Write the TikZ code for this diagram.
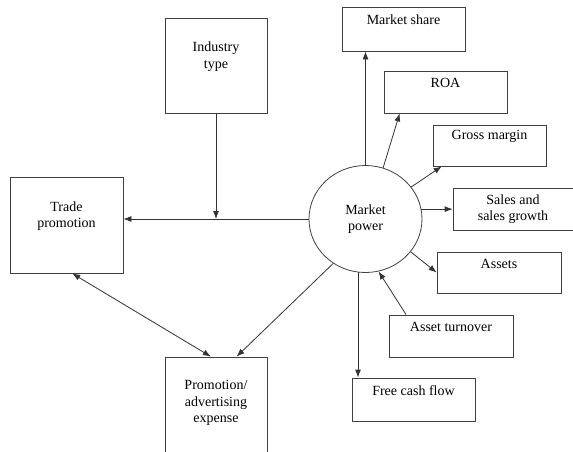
\documentclass[tikz,border=0pt]{standalone}
\usepackage{fontspec}
\setmainfont{Liberation Serif}
\usetikzlibrary{arrows.meta,calc,shapes.geometric}

\tikzset{
  box/.style={draw=black!75, line width=0.8pt, inner sep=0pt},
  txt/.style={anchor=center, align=center, yshift=9pt,
    font=\fontsize{14}{16.5}\selectfont},
  link/.style={draw=black!80, line width=0.8pt, -{Latex[length=8pt,width=6pt]}},
}

\begin{document}
\begin{tikzpicture}[x=1pt,y=-1pt]
  \useasboundingbox (0,0) rectangle (573,451);
  \clip (0,0) rectangle (573,451);

  % centre
  \node[box, ellipse, minimum width=113pt, minimum height=107pt,
        align=center, font=\fontsize{14}{16.5}\selectfont] (power) at (365.5,219) {Market\\power};

  % left side
  \node[box, minimum width=102pt, minimum height=95pt,
        label={[txt]center:Industry\\type}] (industry) at (216,65.5) {};
  \node[box, minimum width=113pt, minimum height=96pt,
        label={[txt]center:Trade\\promotion}] (trade) at (66.5,225) {};
  \node[box, minimum width=102pt, minimum height=110pt,
        label={[txt]center:Promotion/\\advertising\\expense}] (promo) at (216,412) {};

  % right side
  \node[box, minimum width=123pt, minimum height=44pt,
        label={[txt]center:Market share}] (share) at (403.5,29) {};
  \node[box, minimum width=123pt, minimum height=42pt,
        label={[txt]center:ROA}] (roa) at (445.5,92) {};
  \node[box, minimum width=113pt, minimum height=41pt,
        label={[txt]center:Gross margin}] (gross) at (489.5,145.5) {};
  \node[box, minimum width=120pt, minimum height=42pt,
        label={[txt,yshift=-9pt]center:Sales and\\sales growth}] (sales) at (513,209) {};
  \node[box, minimum width=124pt, minimum height=41pt,
        label={[txt]center:Assets}] (assets) at (499,272.5) {};
  \node[box, minimum width=124pt, minimum height=42pt,
        label={[txt]center:Asset turnover}] (turnover) at (451,336) {};
  \node[box, minimum width=123pt, minimum height=43pt,
        label={[txt]center:Free cash flow}] (cash) at (413.5,399.5) {};

  % connectors
  \draw[link] (power.west) -- (power.west -| trade.east);
  \draw[link] (industry.south) -- (industry.south |- power.west);
  \draw[link] (power.-126) -- ($(promo.north west)!0.7!(promo.north east)$);
  \draw[link, {Latex[length=8pt,width=6pt]}-{Latex[length=8pt,width=6pt]}]
    ($(trade.south west)!0.55!(trade.south east)$) -- ($(promo.north west)!0.45!(promo.north east)$);

  \draw[link] (power.north) -- (power.north |- share.south);
  \draw[link] (power.71) -- ($(roa.south west)!0.13!(roa.south east)$);
  \draw[link] (power.35) -- ($(gross.south west)!0.08!(gross.south east)$);
  \draw[link] (power.10) -- (power.10 -| sales.west);
  \draw[link] (power.-36) -- (assets.west);
  \draw[link] ($(turnover.north west)!0.14!(turnover.north east)$) -- (power.-76);
  \draw[link] (power.-98) -- (power.-98 |- cash.north);
\end{tikzpicture}
\end{document}
